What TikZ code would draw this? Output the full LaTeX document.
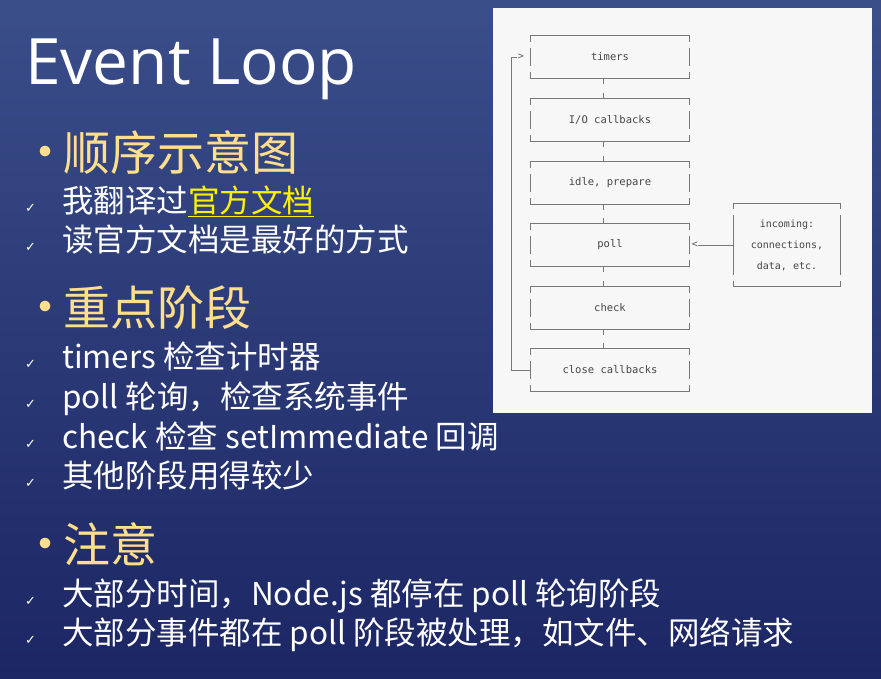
\documentclass[tikz,border=0pt]{standalone}
\usepackage{fontspec}
\setmainfont{Noto Sans CJK SC}
\newfontfamily\latinfont{Open Sans}
\newfontfamily\dejavu{DejaVu Sans}
\setmonofont{DejaVu Sans Mono}
\definecolor{headc}{RGB}{255,222,140}
\definecolor{panel}{RGB}{247,247,247}
\definecolor{stxt}{RGB}{70,70,70}
\definecolor{lnc}{RGB}{120,120,120}
\definecolor{arc}{RGB}{90,90,90}
\definecolor{bgtop}{RGB}{58,78,138}
\definecolor{bgbot}{RGB}{28,38,100}
\begin{document}
\begin{tikzpicture}[x=1pt,y=-1pt,
  bul/.style={anchor=base west,inner sep=0pt,text=headc,font=\fontsize{50}{50}\selectfont},
  head/.style={anchor=base west,inner sep=0pt,text=headc,font=\fontsize{47}{47}\selectfont},
  item/.style={anchor=base west,inner sep=0pt,text=white,font=\fontsize{31.5}{31.5}\selectfont},
  chk/.style={anchor=base west,inner sep=0pt,text=white,font=\dejavu\fontsize{13}{13}\selectfont},
  stage/.style={minimum width=158pt,minimum height=42pt,inner sep=0pt,font=\ttfamily\fontsize{10.5}{12}\selectfont,text=stxt,align=center},
  ln/.style={draw=lnc,line width=0.8pt}]
\shade[top color=bgtop,bottom color=bgbot] (0,0) rectangle (881,678);
\useasboundingbox (0,0) rectangle (881,678);
\fill[panel] (493,8) rectangle (872,413);

\node[anchor=base west,inner sep=0pt,text=white,font=\latinfont\fontsize{64}{64}\selectfont] (title) at (25,84) {Event Loop};

\node[bul] (b1) at (20,170) {•};
\node[head] (h1) at (63,170) {顺序示意图};
\node[chk] (c1) at (25,212) {✓}; \node[item] (t1) at (62,212) {我翻译过\textcolor{yellow}{\underline{官方文档}}};
\node[chk] (c2) at (25,251) {✓}; \node[item] (t2) at (62,251) {读官方文档是最好的方式};

\node[bul] (b2) at (20,325) {•};
\node[head] (h2) at (63,325) {重点阶段};
\node[chk] (c3) at (25,368) {✓}; \node[item] (t3) at (62,368) {timers 检查计时器};
\node[chk] (c4) at (25,408) {✓}; \node[item] (t4) at (62,408) {poll 轮询，检查系统事件};
\node[chk] (c5) at (25,448) {✓}; \node[item] (t5) at (62,448) {check 检查 setImmediate 回调};
\node[chk] (c6) at (25,487) {✓}; \node[item] (t6) at (62,487) {其他阶段用得较少};

\node[bul] (b3) at (20,562) {•};
\node[head] (h3) at (63,562) {注意};
\node[chk] (c7) at (25,605) {✓}; \node[item] (t7) at (62,605) {大部分时间，Node.js 都停在 poll 轮询阶段};
\node[chk] (c8) at (25,644) {✓}; \node[item] (t8) at (62,644) {大部分事件都在 poll 阶段被处理，如文件、网络请求};

\foreach \n/\t/\y in {s1/timers/57,s2/I\slash O callbacks/120,s3/{idle, prepare}/183,s4/poll/245,s5/check/308,s6/close callbacks/370}{
  \node[stage] (\n) at (610,\y) {\t};
  \draw[ln] ([yshift=-6pt]\n.north west) -- (\n.north west) -- (\n.north east) -- ([yshift=-6pt]\n.north east);
  \draw[ln] ([yshift=6pt]\n.south west) -- (\n.south west) -- (\n.south east) -- ([yshift=6pt]\n.south east);
  \draw[ln] ([yshift=-12pt]\n.north west) -- ([yshift=12pt]\n.south west);
  \draw[ln] ([yshift=-12pt]\n.north east) -- ([yshift=12pt]\n.south east);
}
\foreach \a/\b in {s1/s2,s2/s3,s3/s4,s4/s5,s5/s6}{
  \draw[ln] ([xshift=-7pt]\a.south) -- ++(0,6);
  \draw[ln] ([xshift=-7pt]\b.north) -- ++(0,-6);
}
\node[stage,minimum width=106pt,minimum height=83pt,font=\ttfamily\fontsize{10}{21}\selectfont] (inc) at (787,245) {incoming:\\connections,\\data, etc.};
\draw[ln] ([yshift=-6pt]inc.north west) -- (inc.north west) -- (inc.north east) -- ([yshift=-6pt]inc.north east);
\draw[ln] ([yshift=6pt]inc.south west) -- (inc.south west) -- (inc.south east) -- ([yshift=6pt]inc.south east);
\draw[ln] ([yshift=-12pt]inc.north west) -- ([yshift=12pt]inc.south west);
\draw[ln] ([yshift=-12pt]inc.north east) -- ([yshift=12pt]inc.south east);

\coordinate (lt) at (511,57);
\coordinate (lb) at (511,370);
\draw[ln] (s6.west) -- (lb) -- (lt) -- ++(6,0);
\node[inner sep=0pt,font=\ttfamily\fontsize{10}{10}\selectfont,text=arc] (arr1) at (521,57) {>};
\node[inner sep=0pt,font=\ttfamily\fontsize{10}{10}\selectfont,text=arc] (arr2) at (695,245) {<};
\draw[ln] (arr2.east) -- (inc.west);
\end{tikzpicture}
\end{document}
